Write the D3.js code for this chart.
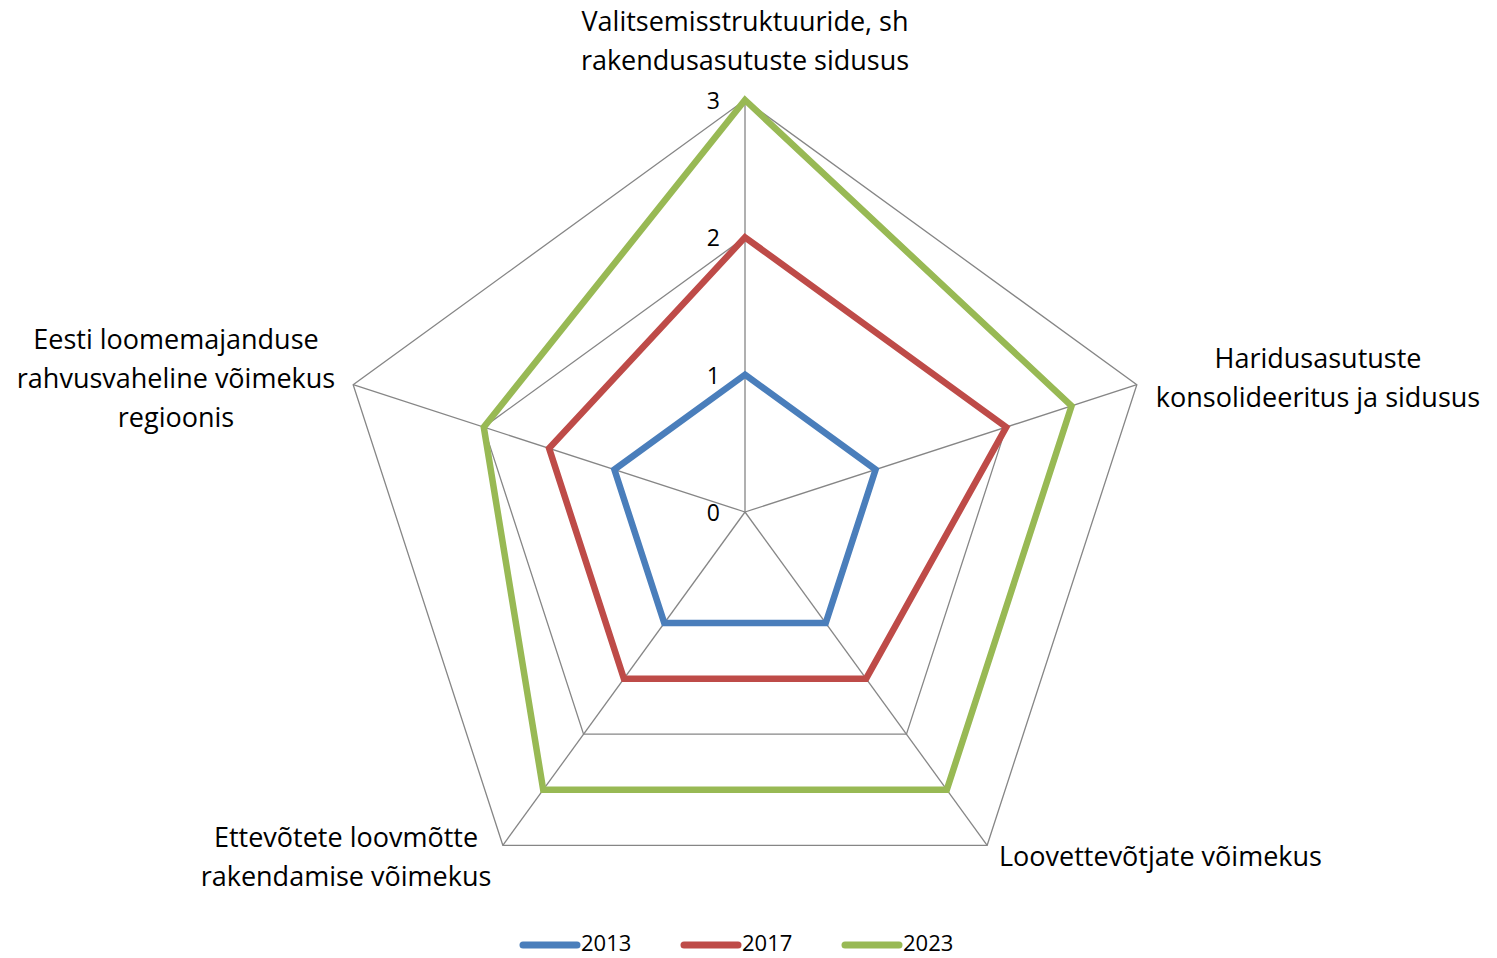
<!DOCTYPE html>
<html>
<head>
<meta charset="utf-8">
<script src="https://cdn.jsdelivr.net/npm/d3@7"></script>
<style>
	html, body { margin: 0; padding: 0; background: #fff; }
	svg { display: block; font-family: 'Open Sans', sans-serif; }
</style>
</head>
<body>
<svg id="chart" width="1497" height="958"></svg>
<script>
/* global d3 */

// Andmed
var categories = [
	['Valitsemisstruktuuride, sh', 'rakendusasutuste sidusus'],
	['Haridusasutuste', 'konsolideeritus ja sidusus'],
	['Loovettevõtjate võimekus'],
	['Ettevõtete loovmõtte', 'rakendamise võimekus'],
	['Eesti loomemajanduse', 'rahvusvaheline võimekus', 'regioonis']
];
var seriesNames = ['2013', '2017', '2023'];
var values2013 = [1, 1, 1, 1, 1];
var values2017 = [2, 2, 1.5, 1.5, 1.5];
var values2023 = [3, 2.5, 2.5, 2.5, 2];
var tickValues = [0, 1, 2, 3];
var colors = ['#4a7ebb', '#be4b48', '#98b954'];

var series = [values2013, values2017, values2023];

var svg = d3.select('#chart');
var cx = 745, cy = 512, R = 412;
var r = d3.scaleLinear().domain([0, 3]).range([0, R]);
var angle = d3.scaleLinear().domain([0, categories.length]).range([0, 2 * Math.PI]);

function pt (i, v) {
	var a = angle(i) - Math.PI / 2;
	return [cx + r(v) * Math.cos(a), cy + r(v) * Math.sin(a)];
}

// Raster
var grid = svg.append('g').attr('fill', 'none').attr('stroke', '#868686').attr('stroke-width', 1.3);
tickValues.slice(1).forEach(function (t) {
	grid.append('path').attr('d', d3.line()(categories.map(function (c, i) { return pt(i, t); })) + 'Z');
});
categories.forEach(function (c, i) {
	var p = pt(i, 3);
	grid.append('line').attr('x1', cx).attr('y1', cy).attr('x2', p[0]).attr('y2', p[1]);
});

// Skaala sildid
svg.append('g').selectAll('text').data(tickValues).enter().append('text')
	.attr('x', cx - 25).attr('y', function (d) { return cy - r(d) + 9; })
	.attr('text-anchor', 'end').attr('font-size', 23).attr('fill', '#000')
	.text(function (d) { return d; });

// Seeriad
var lineGen = d3.line().curve(d3.curveLinearClosed);
series.forEach(function (vals, k) {
	svg.append('path')
		.attr('d', lineGen(vals.map(function (v, i) { return pt(i, v); })))
		.attr('fill', 'none').attr('stroke', colors[k]).attr('stroke-width', 6.5)
		.attr('stroke-linejoin', 'miter');
});

// Kategooriate sildid
var labelPos = [
	{x: 745, y: 31, anchor: 'middle'},
	{x: 1318, y: 368, anchor: 'middle'},
	{x: 999, y: 866, anchor: 'start'},
	{x: 346, y: 847, anchor: 'middle'},
	{x: 176, y: 349, anchor: 'middle'}
];
categories.forEach(function (lines, i) {
	var t = svg.append('text').attr('font-size', 27).attr('fill', '#000')
		.attr('text-anchor', labelPos[i].anchor);
	lines.forEach(function (s, j) {
		t.append('tspan').attr('x', labelPos[i].x).attr('y', labelPos[i].y + j * 39).text(s);
	});
});

// Legend
var legendX = [520, 681, 842];
var legend = svg.append('g');
seriesNames.forEach(function (name, k) {
	legend.append('line')
		.attr('x1', legendX[k] + 3).attr('x2', legendX[k] + 57).attr('y1', 945).attr('y2', 945)
		.attr('stroke', colors[k]).attr('stroke-width', 7).attr('stroke-linecap', 'round');
	legend.append('text').attr('x', legendX[k] + 61).attr('y', 951)
		.attr('font-size', 22).attr('fill', '#000').text(name);
});
</script>
</body>
</html>
